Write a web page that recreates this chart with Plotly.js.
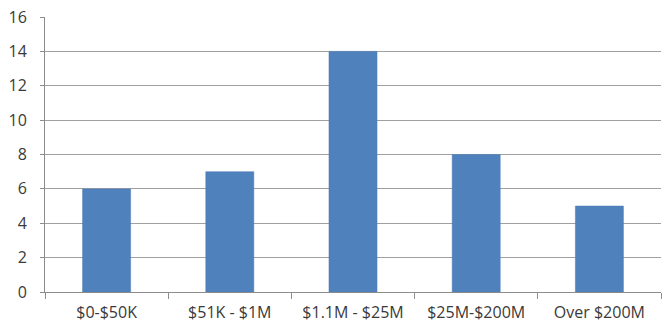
<!DOCTYPE html>
<html><head><meta charset="utf-8">
<script src="https://cdn.plot.ly/plotly-3.0.1.min.js"></script>
<style>html,body{margin:0;padding:0;background:#fff}#c{width:662px;height:326px}</style>
</head><body><div id="c"></div>
<script>
const categories = ["$0-$50K", "$51K - $1M", "$1.1M - $25M", "$25M-$200M", "Over $200M"];
const values = [6, 7, 14, 8, 5];
const yTicks = [0, 2, 4, 6, 8, 10, 12, 14, 16];

Plotly.newPlot('c', [{
  type: 'bar', x: categories, y: values,
  marker: {color: '#4f81bd', line: {color: '#4a7ab5', width: 0.5}},
  width: 0.39, hoverinfo: 'none'
}], {
  width: 662, height: 326,
  margin: {l: 45, r: 1, t: 17, b: 34, pad: 0},
  paper_bgcolor: '#fff', plot_bgcolor: '#fff',
  font: {family: 'Open Sans, Liberation Sans, sans-serif', size: 16, color: '#3a3a3a'},
  showlegend: false,
  xaxis: {
    showline: true, linecolor: '#8c8c8c', linewidth: 1,
    ticks: 'outside', tickson: 'boundaries', ticklen: 6, tickcolor: '#8c8c8c',
    showgrid: false, zeroline: false, fixedrange: true, ticklabelstandoff: 6
  },
  yaxis: {
    range: [0, 16], tickvals: yTicks, ticktext: yTicks.map(String),
    showline: true, linecolor: '#8c8c8c', linewidth: 1,
    ticks: 'outside', ticklen: 4, tickcolor: '#8c8c8c',
    showgrid: true, gridcolor: '#a0a0a0', gridwidth: 1,
    zeroline: false, fixedrange: true, ticklabelstandoff: 10
  }
}, {staticPlot: true, displayModeBar: false});
</script></body></html>
